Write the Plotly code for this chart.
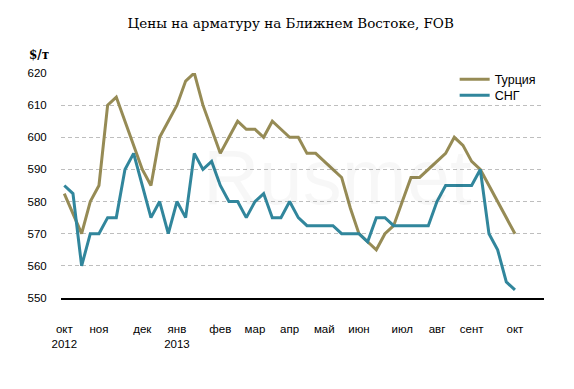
import plotly.graph_objects as go

weeks = list(range(53))

turkey = [582.5, 576, 570, 580, 585, 610, 612.5, 605, 597.5, 590,
          585, 600, 605, 610, 617.5, 620, 610, 602.5, 595, 600,
          605, 602.5, 602.5, 600, 605, 602.5, 600, 600, 595, 595,
          592.5, 590, 587.5, 578, 570, 567.5, 565, 570, 572.5, 580,
          587.5, 587.5, 590, 592.5, 595, 600, 597.5, 592.5, 590, 585,
          580, 575, 570]

cis = [585, 582.5, 560, 570, 570, 575, 575, 590, 595, 585,
       575, 580, 570, 580, 575, 595, 590, 592.5, 585, 580,
       580, 575, 580, 582.5, 575, 575, 580, 575, 572.5, 572.5,
       572.5, 572.5, 570, 570, 570, 567.5, 575, 575, 572.5, 572.5,
       572.5, 572.5, 572.5, 580, 585, 585, 585, 585, 590, 570,
       565, 555, 552.5]

month_weeks = [0, 4, 9, 13, 18, 22, 26, 30, 34, 39, 43, 47, 52]
month_labels = ["окт<br>2012", "ноя", "дек", "янв<br>2013", "фев", "мар", "апр",
                "май", "июн", "июл", "авг", "сент", "окт"]

y_ticks = [550, 560, 570, 580, 590, 600, 610, 620]

# page body has an 8px margin, so the figure is drawn 8px smaller
W, H = 566, 381
L, R, T, B = 53, 30, 65, 91
pw, ph = W - L - R, H - T - B

fig = go.Figure()
fig.add_trace(go.Scatter(x=weeks, y=turkey, mode="lines", name="Турция",
                         line=dict(color="#968B55", width=3), legend="legend"))
fig.add_trace(go.Scatter(x=weeks, y=cis, mode="lines", name="СНГ",
                         line=dict(color="#31869C", width=3), legend="legend2"))

leg_font = dict(family="Liberation Sans", size=12.5, color="#000")
fig.update_layout(
    width=W, height=H,
    margin=dict(l=L, r=R, t=T, b=B, pad=0),
    paper_bgcolor="white", plot_bgcolor="white",
    showlegend=True,
    legend=dict(x=0.815, y=1.037, xanchor="left", yanchor="top",
                font=leg_font, bgcolor="rgba(0,0,0,0)"),
    legend2=dict(x=0.815, y=1.037 - 16 / ph, xanchor="left", yanchor="top",
                 font=leg_font, bgcolor="rgba(0,0,0,0)"),
    title=dict(text="Цены на арматуру на Ближнем Востоке, FOB",
               x=282.7 / W, xref="container", xanchor="center",
               y=1 - 14.8 / H, yref="container", yanchor="middle",
               font=dict(family="DejaVu Serif", size=13.5, color="#000")),
    xaxis=dict(range=[-0.38, 55.35], tickmode="array", tickvals=month_weeks,
               ticktext=month_labels, showgrid=False, zeroline=False,
               showline=True, linecolor="#000", linewidth=1.5,
               ticks="outside", ticklen=19, tickcolor="rgba(0,0,0,0)",
               tickfont=dict(family="Liberation Sans", size=11.5, color="#000")),
    yaxis=dict(range=[550, 620], tickmode="array", tickvals=y_ticks,
               showgrid=True, gridcolor="#BEBEBE", griddash="4px,3px", gridwidth=1,
               zeroline=False, showline=False,
               ticks="outside", ticklen=11, tickcolor="rgba(0,0,0,0)",
               tickfont=dict(family="Liberation Sans", size=11.5, color="#000")),
)

fig.add_annotation(text="<b>$/т</b>", xref="paper", yref="paper",
                   x=(38.6 - 61) / pw, y=(297.5 - 54.5) / ph,
                   xanchor="center", yanchor="middle", showarrow=False,
                   font=dict(family="DejaVu Serif", size=12, color="#000"))
fig.add_annotation(text="Rusmet", xref="paper", yref="paper",
                   x=(337 - 61) / pw, y=(297.5 - 176) / ph,
                   xanchor="center", yanchor="middle", showarrow=False,
                   font=dict(family="Liberation Sans", size=78, color="rgba(0,0,0,0.03)"))

fig.write_html("out.html")
